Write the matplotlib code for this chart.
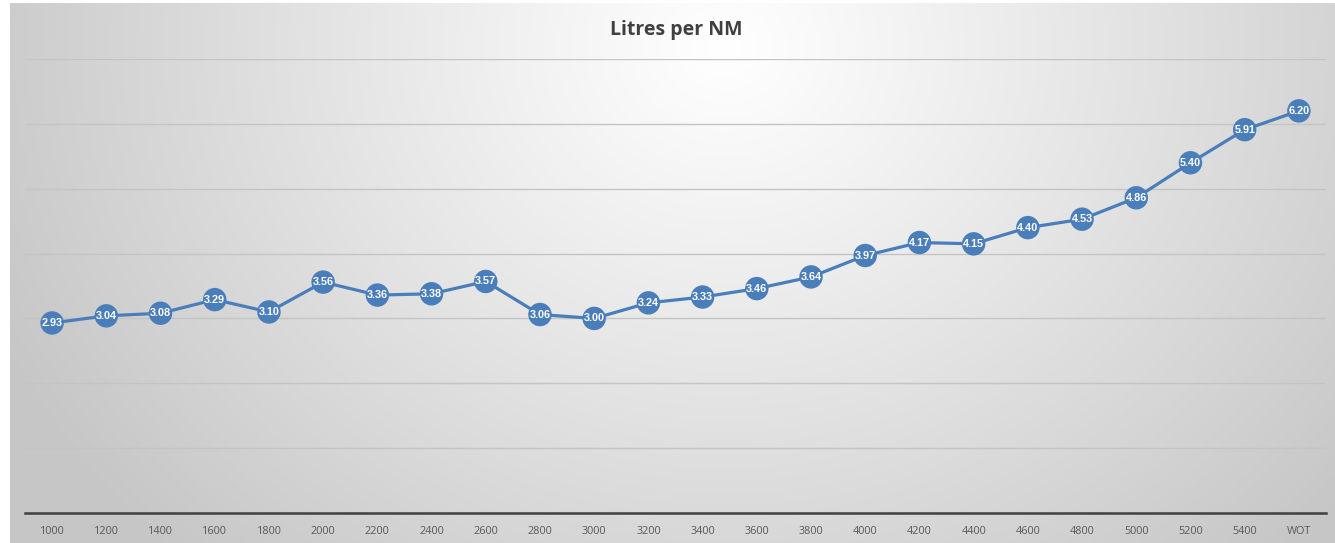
import numpy as np
import matplotlib
matplotlib.use("Agg")
import matplotlib.pyplot as plt

categories = ["1000", "1200", "1400", "1600", "1800", "2000", "2200", "2400", "2600", "2800",
              "3000", "3200", "3400", "3600", "3800", "4000", "4200", "4400", "4600", "4800",
              "5000", "5200", "5400", "WOT"]
litres_per_nm = [2.93, 3.04, 3.08, 3.29, 3.10, 3.56, 3.36, 3.38, 3.57, 3.06,
                 3.00, 3.24, 3.33, 3.46, 3.64, 3.97, 4.17, 4.15, 4.40, 4.53,
                 4.86, 5.40, 5.91, 6.20]
title = "Litres per NM"

W, H = 1335, 543
fig = plt.figure(figsize=(W / 100, H / 100), dpi=100)
fig.patch.set_facecolor("white")

# background gradient panel
bg = fig.add_axes([10 / W, 0, (W - 10) / W, (H - 3) / H])
bg.set_axis_off()
nx, ny = 400, 160
xx, yy = np.meshgrid(np.linspace(0, 1, nx), np.linspace(0, 1, ny))
cx, cy = 0.54, 0.08
d = np.sqrt(((xx - cx) / 0.6) ** 2 + ((yy - cy) / 1.3) ** 2)
d = np.clip(d, 0, 1)
val = 1.0 - 0.22 * d ** 1.05
img = np.dstack([val, val, val])
bg.imshow(img, extent=[0, 1, 0, 1], aspect="auto", origin="upper", interpolation="bilinear")
bg.set_xlim(0, 1)
bg.set_ylim(0, 1)

# plot axes
left = 25 / W
right = 1326 / W
bottom = (H - 513) / H
top = (H - 59) / H
ax = fig.add_axes([left, bottom, right - left, top - bottom])
ax.patch.set_alpha(0)
x = np.arange(len(categories))
color = "#4a7ebb"
ax.plot(x, litres_per_nm, color=color, lw=2.3, zorder=3, solid_capstyle="round")
ax.scatter(x, litres_per_nm, s=285, color=color, zorder=4, edgecolors="none")
for xi, v in zip(x, litres_per_nm):
    ax.text(xi, v, f"{v:.2f}", ha="center", va="center", color="white",
            fontsize=7.8, fontweight="bold", family="Liberation Sans", zorder=5)

ax.set_xlim(-0.5, len(categories) - 0.5)
ax.set_ylim(0, 7)
ax.set_yticks(np.arange(0, 8, 1))
ax.yaxis.grid(True, color="#c4c4c4", lw=1.0)
ax.set_axisbelow(True)
ax.tick_params(axis="y", left=False, labelleft=False)
ax.set_xticks(x)
ax.set_xticklabels(categories, fontsize=7.8, color="#595959", family="Open Sans")
ax.tick_params(axis="x", length=0, pad=9)
for s in ["left", "right", "top"]:
    ax.spines[s].set_visible(False)
ax.spines["bottom"].set_color("#404040")
ax.spines["bottom"].set_linewidth(1.8)

fig.text(676 / W, 1 - 30 / H, title, ha="center", va="center", fontsize=14,
         fontweight="bold", color="#404040", family="Open Sans")

fig.savefig("out.png", dpi=100, facecolor=fig.get_facecolor())
